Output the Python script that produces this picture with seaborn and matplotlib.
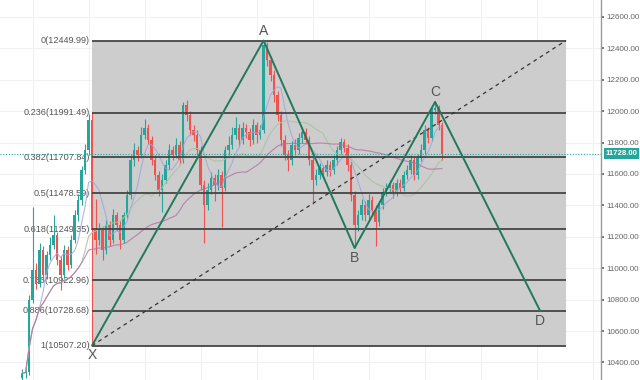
import numpy as np
import pandas as pd
import matplotlib
matplotlib.use("Agg")
import matplotlib.pyplot as plt
import seaborn as sns

sns.set_theme(style="white")
plt.rcParams["font.family"] = ["Liberation Sans", "DejaVu Sans"]

# ---------------- data ----------------
opens = [10300, 10330, 10340, 10800, 10990, 10900, 11116, 10957, 11084, 11148,
         11211, 11052, 10957, 11116, 11020, 11180, 11339, 11434, 11626, 11753,
         11944, 11243, 11180, 11243, 11116, 11275, 11180, 11339, 11275, 11180,
         11339, 11466, 11689, 11753, 11721, 11849, 11893, 11817, 11689, 11594,
         11498, 11562, 11657, 11753, 11721, 11785, 11689, 12040, 11976, 11880,
         11849, 11753, 11530, 11403, 11498, 11575, 11530, 11594, 11511, 11753,
         11785, 11849, 11893, 11817, 11893, 11868, 11817, 11912, 11849, 11880,
         12422, 12326, 12231, 12103, 11976, 11817, 11721, 11689, 11785, 11753,
         11829, 11868, 11817, 11689, 11562, 11594, 11638, 11613, 11657, 11626,
         11689, 11753, 11804, 11766, 11657, 11466, 11275, 11339, 11403, 11339,
         11434, 11371, 11294, 11403, 11485, 11511, 11530, 11485, 11543, 11511,
         11594, 11626, 11689, 11594, 11702, 11753, 11880, 11829, 12008, 12021,
         11912]
closes = [10330, 10340, 10800, 10990, 10900, 11116, 10957, 11084, 11148, 11211,
          11052, 10957, 11116, 11020, 11180, 11339, 11434, 11626, 11753, 11944,
          11243, 11180, 11243, 11116, 11275, 11180, 11339, 11275, 11180, 11339,
          11466, 11689, 11753, 11721, 11849, 11893, 11817, 11689, 11594, 11498,
          11562, 11657, 11753, 11721, 11785, 11689, 12040, 11976, 11880, 11849,
          11753, 11530, 11403, 11498, 11575, 11530, 11594, 11511, 11753, 11785,
          11849, 11893, 11817, 11893, 11868, 11817, 11912, 11849, 11880, 12422,
          12326, 12231, 12103, 11976, 11817, 11721, 11689, 11785, 11753, 11829,
          11868, 11817, 11689, 11562, 11594, 11638, 11613, 11657, 11626, 11689,
          11753, 11804, 11766, 11657, 11466, 11275, 11339, 11403, 11339, 11434,
          11371, 11294, 11403, 11485, 11511, 11530, 11485, 11543, 11511, 11594,
          11626, 11689, 11594, 11702, 11753, 11880, 11829, 12008, 12021, 11912,
          11728]
highs = [10360, 10380, 10830, 11390, 11030, 11160, 11140, 11110, 11200, 11340,
         11230, 11080, 11150, 11140, 11210, 11370, 11470, 11650, 11790, 11980,
         11995, 11440, 11290, 11270, 11310, 11300, 11380, 11360, 11300, 11360,
         11500, 11720, 11800, 11780, 11900, 11950, 11920, 11840, 11720, 11620,
         11600, 11690, 11790, 11780, 11830, 11810, 12060, 12070, 12000, 11910,
         11880, 11780, 11560, 11540, 11610, 11600, 11630, 11620, 11780, 11840,
         11900, 11960, 11920, 11930, 11920, 11890, 11950, 11930, 11910, 12450,
         12440, 12350, 12260, 12130, 12000, 11850, 11750, 11810, 11820, 11860,
         11900, 11890, 11840, 11710, 11630, 11670, 11660, 11690, 11680, 11720,
         11780, 11830, 11820, 11790, 11680, 11490, 11370, 11440, 11430, 11470,
         11460, 11400, 11430, 11510, 11540, 11560, 11550, 11570, 11570, 11620,
         11660, 11720, 11710, 11730, 11790, 11910, 11900, 12030, 12059, 12040,
         11930]
lows = [10280, 10300, 10320, 10780, 10870, 10880, 10920, 10930, 11050, 11120,
        11020, 10860, 10940, 10990, 11000, 11160, 11300, 11400, 11600, 11720,
        10507, 11090, 11150, 11050, 11090, 11140, 11160, 11240, 11120, 11160,
        11320, 11440, 11650, 11680, 11700, 11820, 11790, 11660, 11560, 11460,
        11360, 11540, 11630, 11690, 11700, 11660, 11670, 11940, 11850, 11810,
        11720, 11500, 11160, 11370, 11470, 11430, 11500, 11260, 11490, 11720,
        11760, 11820, 11780, 11790, 11830, 11780, 11790, 11800, 11820, 11860,
        12290, 12190, 12060, 11940, 11780, 11690, 11620, 11660, 11720, 11730,
        11800, 11790, 11660, 11410, 11530, 11570, 11580, 11590, 11590, 11600,
        11660, 11730, 11740, 11620, 11430, 11129, 11240, 11310, 11300, 11310,
        11330, 11140, 11270, 11380, 11460, 11480, 11450, 11460, 11480, 11490,
        11570, 11600, 11560, 11570, 11680, 11730, 11800, 11810, 11980, 11880,
        11690]

fib_ratios = ["0", "0.236", "0.382", "0.5", "0.618", "0.786", "0.886", "1"]
fib_prices = [12449.99, 11991.49, 11707.84, 11478.59, 11249.35, 10922.96, 10728.68, 10507.20]

pattern_labels = ["X", "A", "B", "C", "D"]
pattern_bars = [20, 69, 95, 118, 148]
pattern_prices = [10507.20, 12449.99, 11129.0, 12059.0, 10728.68]

last_price = 11728.00
price_ticks = [10400, 10600, 10800, 11000, 11200, 11400, 11600, 11800, 12000, 12200, 12400, 12600]

# ---------------- figure ----------------
fig = plt.figure(figsize=(6.4, 3.8), dpi=100)
ax = fig.add_axes([0, 0, 601 / 640, 1])
ax.set_facecolor("white")

x_left, x_right = -6.3, 165.4
fib_x0, fib_x1 = 20, 155.4
ax.set_xlim(x_left, x_right)
ax.set_ylim(10288, 12708)

# faint grid
ax.set_xticks(np.arange(3.1, 165, 16))
ax.set_yticks(price_ticks)
ax.grid(True, color="#f1f1f1", lw=0.8)
ax.set_axisbelow(True)

# fib box
ax.fill_between([fib_x0, fib_x1], fib_prices[-1], fib_prices[0], color="#cdcdcd", zorder=1, lw=0)

# candles
df = pd.DataFrame({"o": opens, "h": highs, "l": lows, "c": closes})
df["i"] = np.arange(len(df))
up = df["c"] >= df["o"]
col = np.where(up, "#26a69a", "#ef5350")
ax.vlines(df["i"], df["l"], df["h"], colors=col, lw=0.8, zorder=3)
ax.bar(df["i"], (df["c"] - df["o"]).abs().clip(lower=6), bottom=df[["o", "c"]].min(axis=1),
       width=0.65, color=col, zorder=3, lw=0)

# moving averages
ma = pd.DataFrame({
    "i": df["i"],
    "fast": df["c"].rolling(6, min_periods=1).mean(),
    "mid": df["c"].rolling(18, min_periods=1).mean(),
    "slow": df["c"].rolling(45, min_periods=1).mean(),
})
sns.lineplot(data=ma, x="i", y="fast", ax=ax, color="#9fa3dc", lw=0.8, alpha=0.8, zorder=4)
sns.lineplot(data=ma, x="i", y="mid", ax=ax, color="#a9c3a4", lw=0.8, alpha=0.9, zorder=4)
sns.lineplot(data=ma, x="i", y="slow", ax=ax, color="#b66f9f", lw=0.8, alpha=0.8, zorder=4)

# fib levels
ax.hlines(fib_prices, fib_x0, fib_x1, color="#454545", lw=1.3, zorder=5)
for r, p in zip(fib_ratios, fib_prices):
    ax.text(fib_x0 - 0.7, p, f"{r}({p:.2f})", ha="right", va="center",
            fontsize=6.6, color="#555555", zorder=2)

# last price dotted line
ax.axhline(last_price, color="#26a69a", ls=(0, (1, 1.5)), lw=0.8, zorder=5)

# dashed diagonal
ax.plot([fib_x0, fib_x1], [fib_prices[-1], fib_prices[0]], color="#333333",
        ls=(0, (3, 3)), lw=0.9, zorder=6)

# harmonic pattern
ax.plot(pattern_bars, pattern_prices, color="#21795d", lw=1.4, zorder=7)
offsets = {"X": -1, "A": 1, "B": -1, "C": 1, "D": -1}
for lab, b, p in zip(pattern_labels, pattern_bars, pattern_prices):
    s = offsets[lab]
    ax.annotate(lab, (b, p), xytext=(0, 2 * s), textcoords="offset points",
                ha="center", va="bottom" if s > 0 else "top",
                fontsize=10, color="#555555", zorder=8)

# axis styling
ax.yaxis.tick_right()
ax.set_yticklabels([f"{v:.2f}" for v in price_ticks])
ax.tick_params(axis="y", labelsize=5.8, colors="#666666", length=2.5, pad=1.5,
               direction="out", right=True)
ax.tick_params(axis="x", length=0, labelbottom=False)
ax.set_xlabel("")
ax.set_ylabel("")
for s in ["top", "left", "bottom"]:
    ax.spines[s].set_visible(False)
ax.spines["right"].set_color("#9a9a9a")
ax.spines["right"].set_linewidth(1.0)

# last price label
ax.text(1.0075, last_price, f"{last_price:.2f}", transform=ax.get_yaxis_transform(),
        ha="left", va="center", fontsize=5.6, color="white", fontweight="bold",
        bbox=dict(boxstyle="square,pad=0.25", fc="#26a69a", ec="none"), clip_on=False, zorder=10)

fig.savefig("out.png", dpi=100)
